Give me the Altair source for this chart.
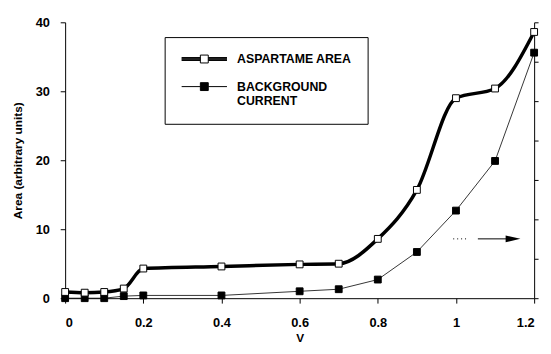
import altair as alt
import pandas as pd

v_vals = [0, 0.05, 0.1, 0.15, 0.2, 0.4, 0.6, 0.7, 0.8, 0.9, 1.0, 1.1, 1.2]
aspartame = [0.9, 0.8, 0.9, 1.4, 4.3, 4.6, 4.9, 5.0, 8.6, 15.7, 29.0, 30.4, 38.6]
background = [0.0, 0.0, 0.0, 0.3, 0.4, 0.4, 1.0, 1.3, 2.7, 6.7, 12.7, 19.9, 35.6]
series_names = ["ASPARTAME AREA", "BACKGROUND CURRENT"]

arrow_x = [0.993, 1.13]
arrow_head_x = [1.146]
arrow_y = 8.6
right_axis_domain = [0, 7]

rows = []
for x, a, b in zip(v_vals, aspartame, background):
    rows.append({"V": x, "Area": a, "series": series_names[0]})
    rows.append({"V": x, "Area": b, "series": series_names[1]})
df = pd.DataFrame(rows)

arrow_df = pd.DataFrame({"V": arrow_x, "Area": [arrow_y] * len(arrow_x)})
head_df = pd.DataFrame({"V": arrow_head_x, "Area": [arrow_y]})
right_df = pd.DataFrame({"V": [0, 1.2], "R": right_axis_domain})

FONT = "Liberation Sans"

xscale = alt.Scale(domain=[0, 1.2], nice=False)
yscale = alt.Scale(domain=[0, 40], nice=False)

xenc = alt.X("V:Q", scale=xscale, title="V",
             axis=alt.Axis(values=[0, 0.2, 0.4, 0.6, 0.8, 1.0, 1.2], format="~g",
                           grid=False, labelPadding=14, titlePadding=3))
yenc = alt.Y("Area:Q", scale=yscale, title="Area (arbitrary units)",
             axis=alt.Axis(values=[0, 10, 20, 30, 40], grid=False,
                           labelPadding=11, titlePadding=11))

base = alt.Chart(df)
is_asp = alt.datum.series == series_names[0]
is_bg = alt.datum.series == series_names[1]

line_asp = base.transform_filter(is_asp).mark_line(
    interpolate="monotone", color="black", strokeWidth=3.5
).encode(x=xenc, y=yenc)

line_bg = base.transform_filter(is_bg).mark_line(
    color="black", strokeWidth=0.8
).encode(x=xenc, y=yenc)

pts_asp = base.transform_filter(is_asp).mark_square(
    size=48, fill="white", stroke="black", strokeWidth=1, opacity=1).encode(x=xenc, y=yenc)
pts_bg = base.transform_filter(is_bg).mark_square(
    size=48, fill="black", stroke="black", strokeWidth=1, opacity=1).encode(x=xenc, y=yenc)

path_asp = ("M-4.6,-0.3H-0.8M-4.6,-0.15H-0.8M-4.6,0H-0.8M-4.6,0.15H-0.8M-4.6,0.3H-0.8"
            "M0.8,-0.3H4.6M0.8,-0.15H4.6M0.8,0H4.6M0.8,0.15H4.6M0.8,0.3H4.6"
            "M-0.8,-0.8H0.8V0.8H-0.8Z")
path_bg = "M-4.6,0H-0.8M0.8,0H4.6M-0.8,-0.8H0.8V0.8H-0.8Z"

legend = alt.Legend(
    title=None, orient="none", legendX=101, legendY=15,
    direction="vertical",
    symbolSize=100, symbolOpacity=1, symbolOffset=18,
    symbolStrokeWidth=1,
    labelFont=FONT, labelFontSize=12.5, labelFontWeight="bold",
    labelColor="black", labelOffset=27,
    labelExpr="datum.label == 'BACKGROUND CURRENT' ? ['BACKGROUND', 'CURRENT'] : datum.label",
    rowPadding=15, padding=16,
    strokeColor="black", fillColor="white",
)

legend_layer = base.mark_point(opacity=0, filled=True).encode(
    x=xenc, y=yenc,
    fill=alt.Fill("series:N", scale=alt.Scale(domain=series_names, range=["white", "black"]),
                  legend=legend),
    stroke=alt.Stroke("series:N", scale=alt.Scale(domain=series_names, range=["black", "black"]),
                      legend=legend),
    shape=alt.Shape("series:N", scale=alt.Scale(domain=series_names, range=[path_asp, path_bg]),
                    legend=legend),
)

arrow_line = alt.Chart(arrow_df).mark_line(
    color="black", strokeWidth=1, strokeDash=[1, 3, 1, 3, 1, 3, 1, 12, 30, 4]
).encode(x=alt.X("V:Q", scale=xscale), y=alt.Y("Area:Q", scale=yscale))
arrow_head = alt.Chart(head_df).mark_point(
    shape="M-1,-0.45L1,0L-1,0.45Z", filled=True, color="black", size=225, opacity=1
).encode(x=alt.X("V:Q", scale=xscale), y=alt.Y("Area:Q", scale=yscale))

inner = alt.layer(line_bg, line_asp, pts_bg, pts_asp, arrow_line, arrow_head, legend_layer)

right = alt.Chart(right_df).mark_point(opacity=0).encode(
    x=alt.X("V:Q", scale=xscale),
    y=alt.Y("R:Q", scale=alt.Scale(domain=right_axis_domain, nice=False),
            axis=alt.Axis(orient="right", labels=False, title=None, grid=False,
                          values=list(range(0, 8)), tickSize=4)),
)

chart = alt.layer(inner, right).resolve_scale(y="independent").properties(
    width=476, height=280,
    autosize=alt.AutoSizeParams(type="none"),
    padding={"left": 58, "top": 12, "right": 9, "bottom": 46},
).configure_view(stroke=None).configure_axis(
    domainColor="black", tickColor="black", tickSize=5, domainWidth=1,
    labelFont=FONT, labelFontSize=13, labelFontWeight="bold", labelColor="black",
    titleFont=FONT, titleFontSize=12, titleFontWeight="bold", titleColor="black",
)

chart.save("out.html", embed_options={"renderer": "svg", "actions": False})
